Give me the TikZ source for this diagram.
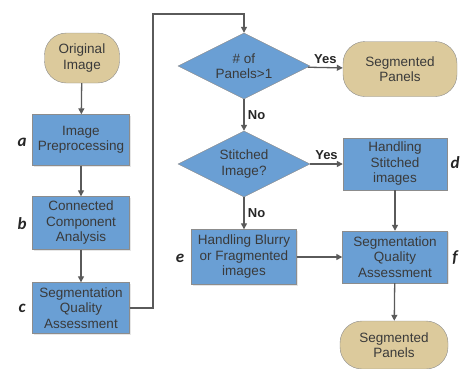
\documentclass[tikz,border=0pt]{standalone}
\usepackage{fontspec}
\setmainfont{Liberation Sans}
\newfontfamily\tagfont{Carlito}
\usetikzlibrary{shapes.geometric,arrows.meta,shadows}
\definecolor{boxblue}{HTML}{6A9FD4}
\definecolor{ovaltan}{HTML}{DCCA9C}
\definecolor{edgegray}{HTML}{8C8C8C}
\definecolor{txtgray}{HTML}{3A3A3A}
\definecolor{arrgray}{HTML}{5A5A5A}

\begin{document}
\begin{tikzpicture}[x=1pt,y=-1pt,
    txt/.style={text=txtgray,align=center,font=\fontsize{13.5}{15.5}\selectfont},
    procbox/.style={txt,rectangle,draw=edgegray,fill=boxblue,inner sep=1pt,
      minimum width=97pt,minimum height=51pt,
      drop shadow={opacity=0.2,shadow xshift=1pt,shadow yshift=-1.2pt}},
    decide/.style={txt,diamond,draw=edgegray,fill=boxblue,inner sep=0pt,aspect=2,
      minimum width=132pt,minimum height=66pt},
    term/.style={txt,rectangle,rounded corners=22pt,draw=edgegray,fill=ovaltan,inner sep=1pt},
    flow/.style={draw=arrgray,line width=1.3pt,-{Triangle[length=6pt,width=6pt]}},
    yesno/.style={text=black!85,font=\fontsize{13}{14}\selectfont\bfseries},
    tag/.style={font=\fontsize{17}{17}\selectfont\tagfont\bfseries\itshape,text=black!85}]
    \useasboundingbox (0,0) rectangle (461,368);

    % 左列：原图与预处理
    \node[term,minimum width=75pt,minimum height=50pt] (orig) at (82,58) {Original\\Image};
    \node[procbox] (prep) at (81,140) {Image\\Preprocessing};
    \node[procbox,minimum height=53pt] (conn) at (81,223) {Connected\\Component\\Analysis};
    \node[procbox] (sqaL) at (81,308) {Segmentation\\Quality\\Assessment};

    % 右侧：判断与处理
    \node[decide] (panels) at (244,66) {\# of\\Panels>1};
    \node[term,minimum width=114pt,minimum height=55pt] (segTop) at (400,69) {Segmented\\Panels};
    \node[decide] (stitch) at (244,164) {Stitched\\Image?};
    \node[procbox,minimum width=104pt,minimum height=52pt] (hstitch) at (395,164) {Handling\\Stitched\\images};
    \node[procbox,minimum width=105pt,minimum height=55pt] (hblur) at (244,257) {Handling Blurry\\or Fragmented\\images};
    \node[procbox,minimum width=105pt,minimum height=52pt] (sqaR) at (395,257) {Segmentation\\Quality\\Assessment};
    \node[term,minimum width=108pt,minimum height=48pt] (segBot) at (394,345) {Segmented\\Panels};

    % 步骤标记
    \node[tag] (ta) at (22,142) {a};
    \node[tag] (tb) at (22,224) {b};
    \node[tag] (tc) at (22,308) {c};
    \node[tag] (td) at (455,163) {d};
    \node[tag] (te) at (180,258) {e};
    \node[tag] (tf) at (455,258) {f};

    % 连线
    \coordinate (R) at (153,14);
    \draw[flow] (orig) -- (prep);
    \draw[flow] (prep) -- (conn);
    \draw[flow] (conn) -- (sqaL);
    \draw[flow] (sqaL.east) -| (R) -| (panels.north);
    \draw[flow] (panels) -- node[yesno,above] {Yes} (segTop);
    \draw[flow] (panels) -- node[yesno,right] {No} (stitch);
    \draw[flow] (stitch) -- node[yesno,above] {Yes} (hstitch);
    \draw[flow] (stitch) -- node[yesno,right] {No} (hblur);
    \draw[flow] (hstitch) -- (sqaR);
    \draw[flow] (hblur) -- (sqaR);
    \draw[flow] (sqaR) -- (segBot);
\end{tikzpicture}
\end{document}
